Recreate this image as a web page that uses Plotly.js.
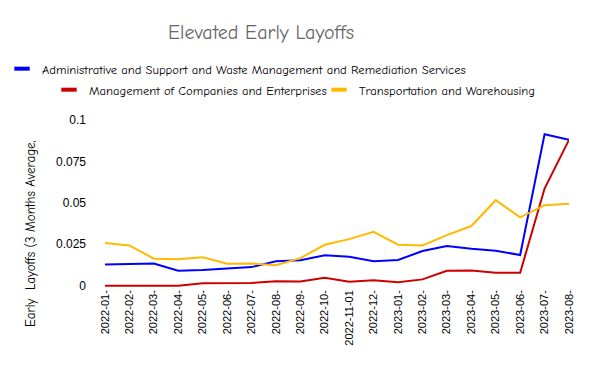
<!DOCTYPE html>
<html>
<head>
<meta charset="utf-8">
<script src="https://cdn.plot.ly/plotly-3.0.1.min.js"></script>
<style>html,body{margin:0;padding:0;background:#fff;}#chart{width:600px;height:371px;}</style>
</head>
<body>
<div id="chart"></div>
<script>
const categories = ["2022-01","2022-02","2022-03","2022-04","2022-05","2022-06","2022-07","2022-08","2022-09","2022-10","2022-11","2022-12","2023-01","2023-02","2023-03","2023-04","2023-05","2023-06","2023-07","2023-08"];
const tickLabels = ["2022-01-","2022-02-","2022-03-","2022-04-","2022-05-","2022-06-","2022-07-","2022-08-","2022-09-","2022-10-","2022-11-01","2022-12-","2023-01-","2023-02-","2023-03-","2023-04-","2023-05-","2023-06-","2023-07-","2023-08-"];
const adminSupport = [0.0128,0.0130,0.0134,0.0090,0.0094,0.0104,0.0112,0.0147,0.0153,0.0183,0.0175,0.0147,0.0155,0.0209,0.0239,0.0223,0.0211,0.0185,0.0914,0.0880];
const mgmtCompanies = [0.0000,0.0000,0.0000,0.0000,0.0014,0.0016,0.0016,0.0026,0.0025,0.0048,0.0024,0.0032,0.0020,0.0038,0.0090,0.0092,0.0078,0.0078,0.0586,0.0880];
const transportation = [0.0257,0.0243,0.0163,0.0159,0.0171,0.0133,0.0134,0.0124,0.0166,0.0247,0.0281,0.0325,0.0247,0.0243,0.0305,0.0360,0.0516,0.0412,0.0486,0.0494];
const yTickVals = [0, 0.025, 0.05, 0.075, 0.1];
const yTickText = ["0", "0.025", "0.05", "0.075", "0.1"];
const seriesNames = ["Administrative and Support and Waste Management and Remediation Services","Management of Companies and Enterprises","Transportation and Warehousing"];
const seriesColors = ["#0000FF","#CC0000","#FFB900"];
const seriesValues = [adminSupport, mgmtCompanies, transportation];

const comic = '"Comic Sans MS", "Comic Neue", "Liberation Sans", sans-serif';
const traces = [];
seriesValues.forEach((vals, i) => {
  traces.push({
    type: 'scatter', mode: 'lines', x: categories, y: vals,
    name: seriesNames[i], showlegend: false,
    line: {color: seriesColors[i], width: 2}
  });
});
seriesNames.forEach((n, i) => {
  traces.push({
    type: 'scatter', mode: 'markers', x: [null], y: [null], name: n,
    legend: i === 0 ? 'legend' : 'legend2',
    marker: {symbol: 'line-ew', size: 11, color: seriesColors[i], line: {color: seriesColors[i], width: 4}}
  });
});

const legendCommon = {
  orientation: 'h', yanchor: 'middle', xanchor: 'left', xref: 'paper', yref: 'paper',
  font: {family: comic, size: 12.6, color: '#000'}, bgcolor: 'rgba(0,0,0,0)',
  itemclick: false, tracegroupgap: 0
};

const layout = {
  width: 600, height: 371,
  margin: {l: 105, r: 31, t: 120, b: 84, autoexpand: false},
  paper_bgcolor: '#fff', plot_bgcolor: '#fff',
  title: {text: 'Elevated Early Layoffs', x: 261/600, xanchor: 'center', xref: 'container', y: 1 - 32/371, yanchor: 'middle', yref: 'container',
          font: {family: comic, size: 20, color: '#666'}},
  xaxis: {type: 'category', categoryorder: 'array', categoryarray: categories, range: [0, 19],
          tickmode: 'array', tickvals: categories, ticktext: tickLabels, tickangle: -90,
          showgrid: false, zeroline: false, showline: false, ticks: '',
          tickfont: {family: '"Liberation Sans", Arial, sans-serif', size: 11, color: '#000'}},
  yaxis: {range: [-0.0008, 0.1], tickmode: 'array', tickvals: yTickVals, ticktext: yTickText,
          showgrid: false, zeroline: false, showline: false, ticks: '', ticklabelstandoff: 18,
          tickfont: {family: '"Liberation Sans", Arial, sans-serif', size: 12, color: '#000'}},
  legend: Object.assign({}, legendCommon, {x: (2 - 105) / 464, y: 1 + (120 - 69) / 167}),
  legend2: Object.assign({}, legendCommon, {x: (49 - 105) / 464, y: 1 + (120 - 90) / 167, entrywidth: 225}),
  annotations: [{
    text: 'Early  Layoffs (3 Months Average,', textangle: -90, showarrow: false,
    xref: 'paper', yref: 'paper', x: -(105 - 30) / 464, y: (287 - 234) / 167,
    xanchor: 'center', yanchor: 'middle', font: {family: comic, size: 13, color: '#000'}
  }]
};

Plotly.newPlot('chart', traces, layout, {displayModeBar: false, staticPlot: true});
</script>
</body>
</html>
